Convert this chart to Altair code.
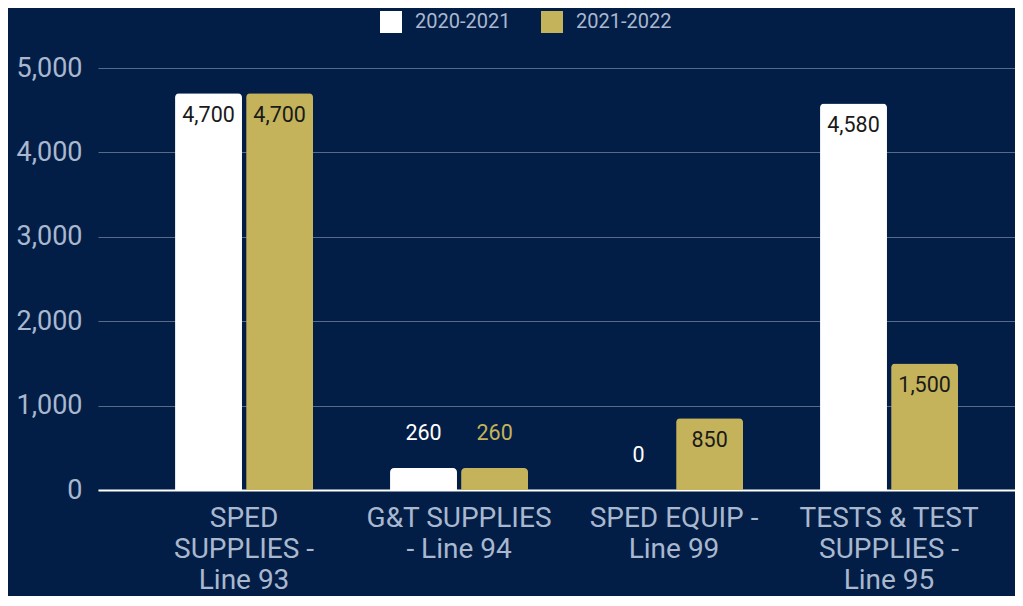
import altair as alt
import pandas as pd

categories = ["SPED\nSUPPLIES -\nLine 93", "G&T SUPPLIES\n- Line 94", "SPED EQUIP -\nLine 99", "TESTS & TEST\nSUPPLIES -\nLine 95"]
series = ["2020-2021", "2021-2022"]
values_2020_2021 = [4700, 260, 0, 4580]
values_2021_2022 = [4700, 260, 850, 1500]
colors = ["#ffffff", "#c4b35a"]

rows = []
for s, vals in zip(series, [values_2020_2021, values_2021_2022]):
    for c, v in zip(categories, vals):
        rows.append({"category": c, "series": s, "value": v,
                     "inside": v >= 500})
df = pd.DataFrame(rows)

BG = "#031e46"
TXT = "#a9b8cf"

x = alt.X("category:N", sort=categories,
          scale=alt.Scale(paddingInner=0.358, paddingOuter=0.3116, align=0.575),
          axis=alt.Axis(title=None, labelAngle=0, labelFontSize=28, labelColor=TXT,
                        labelFont="Roboto", labelLineHeight=31, labelPadding=14,
                        labelLimit=0,
                        labelExpr="split(datum.label, '\\n')", ticks=False,
                        domainColor="#ffffff", domainWidth=2, labelBaseline="top"))
xo = alt.XOffset("series:N", sort=series,
                 scale=alt.Scale(paddingInner=0.058, paddingOuter=0))
y = alt.Y("value:Q", scale=alt.Scale(domain=[0, 5000]),
          axis=alt.Axis(title=None, values=[0, 1000, 2000, 3000, 4000, 5000], format=",.0f",
                        labelFontSize=27, labelColor=TXT, labelFont="Roboto",
                        labelPadding=16, ticks=False, domain=False,
                        gridColor="#566b8c", gridWidth=1))
color = alt.Color("series:N", sort=series,
                  scale=alt.Scale(domain=series, range=colors),
                  legend=alt.Legend(title=None, orient="none", direction="horizontal",
                                    legendX=282, legendY=-57, symbolType="square",
                                    symbolSize=484, symbolStrokeWidth=0, symbolOpacity=1,
                                    labelFontSize=20, labelColor=TXT, labelFont="Roboto",
                                    labelOffset=13, columnPadding=30))

base = alt.Chart(df)
bars = base.mark_bar(cornerRadiusTopLeft=4, cornerRadiusTopRight=4).encode(
    x=x, xOffset=xo, y=y, color=color)

inside = base.transform_filter("datum.inside").mark_text(
    dy=23, fontSize=21.5, font="Roboto", color="#1a1a1a", baseline="middle").encode(
    x=alt.X("category:N", sort=categories), xOffset=alt.XOffset("series:N", sort=series),
    y="value:Q", text=alt.Text("value:Q", format=",.0f"))

outside = base.transform_filter("!datum.inside").mark_text(
    dy=-34, fontSize=21.5, font="Roboto", baseline="middle").encode(
    x=alt.X("category:N", sort=categories), xOffset=alt.XOffset("series:N", sort=series),
    y="value:Q", text=alt.Text("value:Q", format=",.0f"),
    color=alt.Color("series:N", sort=series, scale=alt.Scale(domain=series, range=colors), legend=None))

chart = alt.layer(bars, inside, outside).properties(
    width=917, height=422,
    autosize=alt.AutoSizeParams(type="none"),
    padding={"left": 90, "top": 60, "right": 0, "bottom": 106},
    background=BG,
).configure_view(stroke=None).configure_axis(gridOpacity=1)

chart.save("out.html", embed_options={"renderer": "svg", "actions": False})
